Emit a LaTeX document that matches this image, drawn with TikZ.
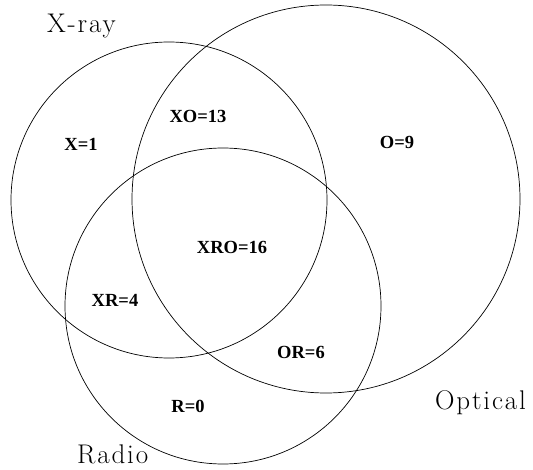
\documentclass[tikz,border=0pt]{standalone}
\usepackage{fontspec}
\newfontfamily\bandfont[LetterSpace=7]{Latin Modern Roman}
\newfontfamily\countfont{Liberation Serif}

\tikzstyle{every node}=[inner sep=0pt, outer sep=0pt]
\tikzstyle{band}=[draw=black, circle, line width=0.7pt]
\tikzstyle{bandname}=[anchor=base west, font={\bandfont\fontsize{27}{27}\selectfont}]
\tikzstyle{count}=[font={\countfont\bfseries\fontsize{18.5}{18.5}\selectfont}]

\begin{document}
\begin{tikzpicture}[x=1pt, y=-1pt]
    \useasboundingbox (0,0) rectangle (533,470);

    \node [band, minimum size=316pt] (xray) at (169,200) {};
    \node [band, minimum size=388pt] (optical) at (326,199) {};
    \node [band, minimum size=316pt] (radio) at (223,306) {};

    \node [bandname] (xrayname) at (47,33) {X-ray};
    \node [bandname] (opticalname) at (435,409) {Optical};
    \node [bandname] (radioname) at (77,463) {Radio};

    \node [count] (x) at (81,144) {X=1};
    \node [count] (xo) at (198,116) {XO=13};
    \node [count] (o) at (397,142) {O=9};
    \node [count] (xro) at (232,247) {XRO=16};
    \node [count] (xr) at (115,300) {XR=4};
    \node [count] (or) at (301,352) {OR=6};
    \node [count] (r) at (188,406) {R=0};
\end{tikzpicture}
\end{document}
